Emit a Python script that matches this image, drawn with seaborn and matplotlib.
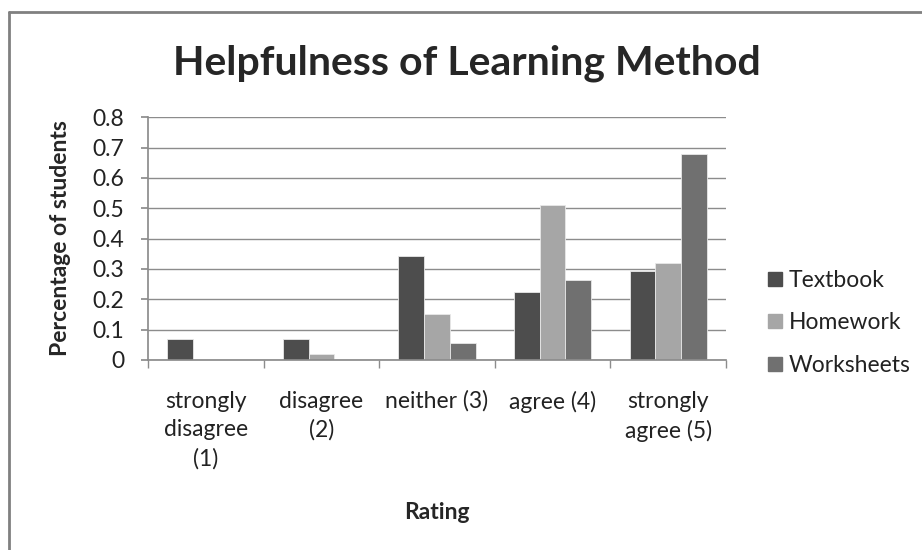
import numpy as np
import pandas as pd
import matplotlib
matplotlib.use("Agg")
import matplotlib.pyplot as plt
import seaborn as sns
from matplotlib.lines import Line2D

# ------------------------------
# Data
# ------------------------------
ratings = ["strongly\ndisagree\n(1)", "disagree\n(2)", "neither (3)",
           "agree (4)", "strongly\nagree (5)"]
methods = ["Textbook", "Homework", "Worksheets"]
textbook = [0.068, 0.068, 0.342, 0.224, 0.293]
homework = [0.0, 0.020, 0.153, 0.509, 0.321]
worksheets = [0.0, 0.0, 0.056, 0.265, 0.679]
colors = ["#4d4d4d", "#a6a6a6", "#707070"]

df = pd.DataFrame({
    "Rating": ratings * 3,
    "Method": [m for m in methods for _ in ratings],
    "Value": textbook + homework + worksheets,
})

sns.set_theme(style="white")
plt.rcParams["font.family"] = ["Lato", "DejaVu Sans"]
FS = 16.5
TXT = "#222222"

fig = plt.figure(figsize=(9.22, 5.5), dpi=100)
ax = fig.add_axes([0.1605, 0.3455, 0.7874 - 0.1605, 0.787 - 0.3455])

sns.barplot(data=df, x="Rating", y="Value", hue="Method", order=ratings,
            hue_order=methods, palette=colors, width=0.667, ax=ax,
            edgecolor="#e8e8e8", linewidth=0.6, legend=False)

ax.set_ylim(0, 0.8)
ax.set_xlim(-0.5, 4.5)
ax.set_yticks(np.arange(0, 0.81, 0.1))
ax.set_yticklabels(["0"] + [f"{v:.1f}" for v in np.arange(0.1, 0.81, 0.1)])
ax.yaxis.grid(True, color="#8c8c8c", linewidth=1)
ax.set_axisbelow(True)

for s in ["top", "right"]:
    ax.spines[s].set_visible(False)
ax.spines["left"].set_color("#8c8c8c")
ax.spines["bottom"].set_color("#8c8c8c")

ax.tick_params(axis="y", which="major", left=True, length=5, color="#8c8c8c",
               labelsize=FS, labelcolor=TXT, pad=12)
ax.tick_params(axis="x", which="major", length=0, labelsize=FS,
               labelcolor=TXT, pad=22)
ax.set_xticks(np.arange(-0.5, 4.6, 1.0), minor=True)
ax.tick_params(axis="x", which="minor", bottom=True, length=6,
               color="#8c8c8c")
for lbl in ax.get_xticklabels():
    lbl.set_linespacing(1.45)

ax.set_xlabel("Rating", fontsize=FS, fontweight="bold", va="center")
ax.xaxis.set_label_coords(0.5, -0.63)
ax.set_ylabel("Percentage of students", fontsize=FS, fontweight="bold",
              va="center")
ax.yaxis.set_label_coords(-0.152, 0.5)

fig.suptitle("Helpfulness of Learning Method", fontsize=29.5,
             fontweight="bold", x=0.506, y=0.92, va="top")

handles = [Line2D([], [], marker="s", linestyle="", markersize=10,
                  markerfacecolor=c, markeredgecolor=c) for c in colors]
leg = fig.legend(handles, methods, loc="center left",
                 bbox_to_anchor=(0.818, 0.413), frameon=False, fontsize=FS,
                 handletextpad=0.2, labelspacing=0.95, handlelength=0.8,
                 borderpad=0)
for t in leg.get_texts():
    t.set_color(TXT)

# chart border (only left and top edges visible in the reference)
fig.add_artist(Line2D([0.01, 0.01], [0.0, 0.979], color="#808080",
                      linewidth=2, transform=fig.transFigure))
fig.add_artist(Line2D([0.01, 1.0], [0.979, 0.979], color="#808080",
                      linewidth=2, transform=fig.transFigure))

fig.savefig("out.png", dpi=100)
